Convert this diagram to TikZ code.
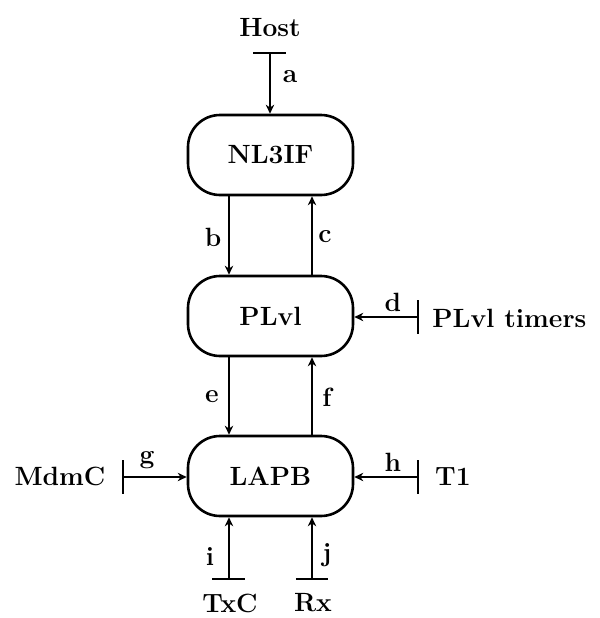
\documentclass[tikz,border=0pt]{standalone}
\usetikzlibrary{arrows.meta}
\begin{document}
\begin{tikzpicture}[x=0.5pt,y=-0.5pt,
  font=\fontsize{13.2}{16}\selectfont\bfseries,
  proc/.style={draw,line width=1.3pt,rounded corners=16pt,
    minimum width=82.5pt,minimum height=40pt,inner sep=0pt},
  flow/.style={line width=1.2pt,-{Stealth[length=4.5pt,width=4.2pt]}},
  tbar/.style={line width=1.2pt},
  lbl/.style={inner sep=0pt}]
\useasboundingbox (0,0) rectangle (600,618);

% processes
\node[proc] (nl) at (270.5,155) {NL3IF};
\node[proc] (pl) at (270.5,316) {PLvl};
\node[proc] (la) at (270.5,476) {LAPB};

% external interfaces
\node[lbl] (host) at (270,28) {Host};
\node[lbl,anchor=west] (plt) at (432,318) {PLvl timers};
\node[lbl] (mdm) at (60,476) {MdmC};
\node[lbl] (t1) at (453,477) {T1};
\node[lbl] (txc) at (230,603) {TxC};
\node[lbl] (rx) at (313,603) {Rx};

% terminator points
\coordinate (aT) at (270,53);
\coordinate (dT) at (418,317);
\coordinate (gT) at (123,477);
\coordinate (hT) at (418,477);
\coordinate (iT) at (229,579);
\coordinate (jT) at (312,579);
\coordinate (lx) at (229,0);
\coordinate (rx0) at (312,0);

% terminator bars
\draw[tbar] ([xshift=-8.25pt]aT) -- ([xshift=8.25pt]aT);
\draw[tbar] ([yshift=8.5pt]dT) -- ([yshift=-8.5pt]dT);
\draw[tbar] ([yshift=8.5pt]gT) -- ([yshift=-8.5pt]gT);
\draw[tbar] ([yshift=8.5pt]hT) -- ([yshift=-8.5pt]hT);
\draw[tbar] ([xshift=-8.25pt]iT) -- ([xshift=8.25pt]iT);
\draw[tbar] ([xshift=-8pt]jT) -- ([xshift=8pt]jT);

% flows
\draw[flow] (aT) -- (aT |- nl.north);
\draw[flow] (nl.south -| lx) -- (pl.north -| lx);
\draw[flow] (pl.north -| rx0) -- (nl.south -| rx0);
\draw[flow] (dT) -- (dT -| pl.east);
\draw[flow] (pl.south -| lx) -- (la.north -| lx);
\draw[flow] (la.north -| rx0) -- (pl.south -| rx0);
\draw[flow] (gT) -- (gT -| la.west);
\draw[flow] (hT) -- (hT -| la.east);
\draw[flow] (iT) -- (iT |- la.south);
\draw[flow] (jT) -- (jT |- la.south);

% flow labels
\node[lbl] (la_a) at (290,77) {a};
\node[lbl] (la_b) at (213,237) {b};
\node[lbl] (la_c) at (325,237) {c};
\node[lbl] (la_d) at (393,302) {d};
\node[lbl] (la_e) at (212,397) {e};
\node[lbl] (la_f) at (327,397) {f};
\node[lbl] (la_g) at (147,460) {g};
\node[lbl] (la_h) at (393,462) {h};
\node[lbl] (la_i) at (210,557) {i};
\node[lbl] (la_j) at (327,555) {j};
\end{tikzpicture}
\end{document}
